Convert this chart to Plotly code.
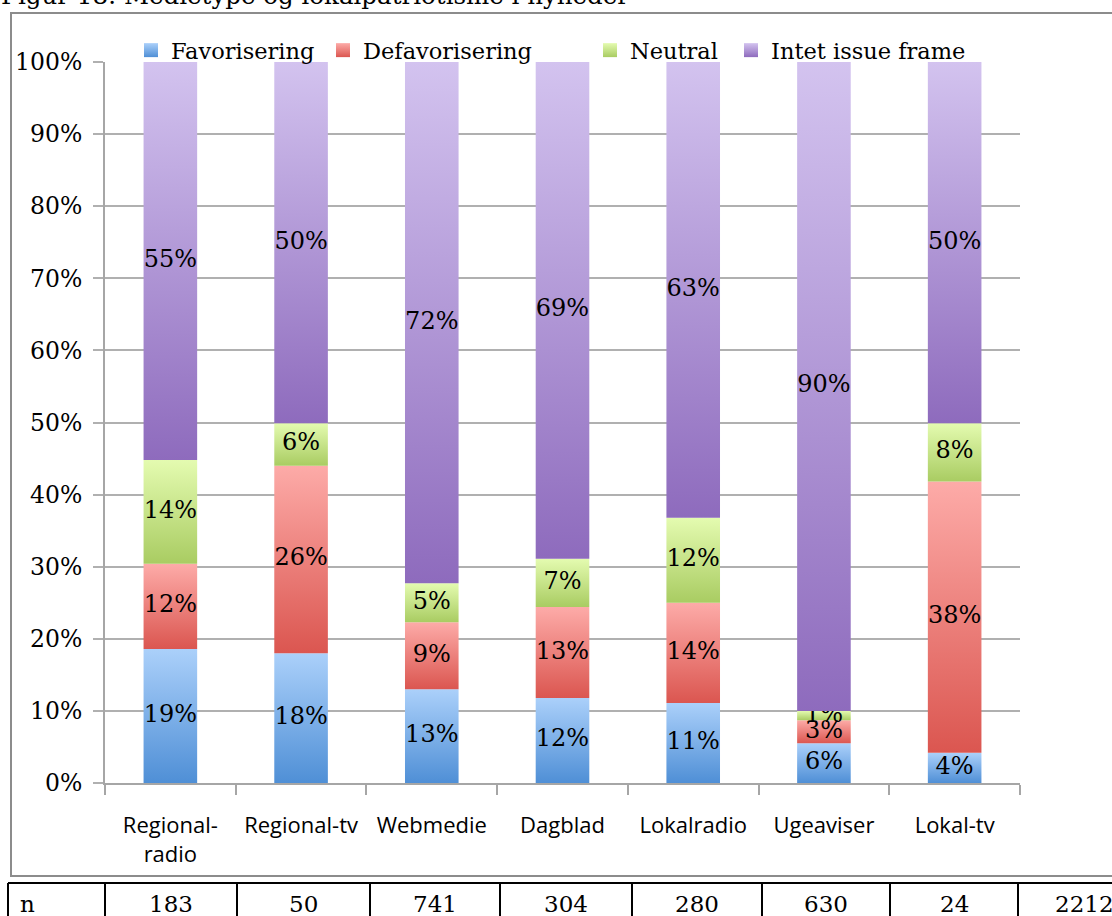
import plotly.graph_objects as go

# data (percent of stories per media type)
categories = ["Regional-<br>radio", "Regional-tv", "Webmedie", "Dagblad", "Lokalradio", "Ugeaviser", "Lokal-tv"]
favorisering = [18.6, 18.0, 13.0, 11.8, 11.1, 5.5, 4.2]
defavorisering = [11.8, 26.0, 9.3, 12.6, 13.9, 3.2, 37.6]
neutral = [14.4, 5.9, 5.4, 6.7, 11.8, 1.3, 8.1]
intet = [55.2, 50.1, 72.3, 68.9, 63.2, 90.0, 50.1]
series_names = ["Favorisering", "Defavorisering", "Neutral", "Intet issue frame"]
y_ticks = [0, 10, 20, 30, 40, 50, 60, 70, 80, 90, 100]
n_row = ["n", "183", "50", "741", "304", "280", "630", "24", "2212"]
title_text = "Figur 18: Medietype og lokalpatriotisme i nyheder"

# gradient colours (bottom, top) per series
grad = [("#4f8fd6", "#abd0fa"), ("#db5650", "#fdaba8"), ("#a9cc62", "#e4fbb0"), ("#8e6bbd", "#d3c3ef")]

SERIF = "DejaVu Serif"
SANS = "Open Sans"
W, H = 1112, 916
L, R, T, B = 105, 1020, 62, 783


def px(xp):
    return (xp - L) / (R - L)


def py(yp):
    return (B - yp) / (B - T)


fig = go.Figure()
half = 0.205
values = [favorisering, defavorisering, neutral, intet]
base = [0.0] * len(categories)
for s, vals in enumerate(values):
    lx, ly, lt = [], [], []
    for i, v in enumerate(vals):
        b0, b1 = base[i], base[i] + v
        fig.add_trace(go.Scatter(
            x=[i - half, i + half, i + half, i - half, i - half],
            y=[b0, b0, b1, b1, b0],
            mode="lines", fill="toself", line=dict(width=0),
            fillgradient=dict(type="vertical", colorscale=[[0, grad[s][0]], [1, grad[s][1]]]),
            showlegend=False, hoverinfo="skip"))
        lx.append(i)
        ly.append((b0 + b1) / 2)
        lt.append(f"{round(v)}%")
        base[i] = b1
    fig.add_trace(go.Scatter(x=lx, y=ly, text=lt, mode="text", showlegend=False, hoverinfo="skip",
                             textfont=dict(family=SERIF, size=24, color="black")))

# legend entries, one small legend each so they sit where the reference has them
legend_x = [131, 323, 590, 731]
legend_layout = {}
for s, name in enumerate(series_names):
    lg = "legend" if s == 0 else f"legend{s + 1}"
    fig.add_trace(go.Scatter(x=[None], y=[None], mode="markers", name=name, legend=lg,
                             marker=dict(symbol="square", size=14, color=grad[s][1],
                                         gradient=dict(type="vertical", color=grad[s][0]))))
    legend_layout[lg] = dict(orientation="h", x=px(legend_x[s]), y=py(29), xanchor="left", yanchor="top",
                             font=dict(family=SERIF, size=22.5, color="black"), bgcolor="rgba(0,0,0,0)",
                             itemwidth=30)

shapes = []
# outer frame
shapes.append(dict(type="rect", xref="paper", yref="paper", x0=px(11), x1=px(1130), y0=py(13), y1=py(876),
                   line=dict(color="#8c8c8c", width=2), layer="below"))
# table lines
shapes.append(dict(type="line", xref="paper", yref="paper", x0=px(8), x1=px(1130), y0=py(883), y1=py(883),
                   line=dict(color="black", width=2)))
col_edges = [8, 105, 237, 370, 500, 632, 762, 890, 1018]
for xe in col_edges:
    shapes.append(dict(type="line", xref="paper", yref="paper", x0=px(xe), x1=px(xe), y0=py(883), y1=py(930),
                       line=dict(color="black", width=2)))

annotations = [dict(text=title_text, xref="paper", yref="paper", x=px(0), y=py(11), xanchor="left",
                    yanchor="bottom", showarrow=False, borderpad=0, font=dict(family=SERIF, size=24.5, color="black"))]
for k, txt in enumerate(n_row):
    if k == 0:
        annotations.append(dict(text=txt, xref="paper", yref="paper", x=px(18), y=py(904), xanchor="left",
                                yanchor="middle", showarrow=False, font=dict(family=SERIF, size=23, color="black")))
    else:
        right = col_edges[k + 1] if k + 1 < len(col_edges) else 1150
        xc = (col_edges[k] + right) / 2
        annotations.append(dict(text=txt, xref="paper", yref="paper", x=px(xc), y=py(904), xanchor="center",
                                yanchor="middle", showarrow=False, font=dict(family=SERIF, size=23, color="black")))

fig.update_layout(
    width=W, height=H, autosize=False,
    margin=dict(l=L, r=W - R, t=T, b=H - B, pad=0),
    plot_bgcolor="white", paper_bgcolor="white",
    shapes=shapes, annotations=annotations,
    xaxis=dict(range=[-0.5, 6.5], tickmode="array", tickvals=list(range(len(categories))), ticktext=categories,
               ticks="outside", ticklen=0, showgrid=False, zeroline=False,
               showline=True, linecolor="#a6a6a6", linewidth=2,
               tickfont=dict(family=SANS, size=22, color="black"), ticklabelstandoff=22,
               minor=dict(tickmode="array", tickvals=[i - 0.5 for i in range(len(categories) + 1)],
                          ticks="outside", ticklen=10, tickwidth=2, tickcolor="#a6a6a6", showgrid=False),
               fixedrange=True),
    yaxis=dict(range=[0, 100], tickmode="array", tickvals=y_ticks, ticktext=[f"{v}%" for v in y_ticks],
               ticks="outside", ticklen=10, tickwidth=2, tickcolor="#b0b0b0",
               showgrid=True, gridcolor="#b0b0b0", gridwidth=2, zeroline=False,
               showline=True, linecolor="#a6a6a6", linewidth=2,
               tickfont=dict(family=SERIF, size=23.5, color="black"), ticklabelstandoff=6,
               fixedrange=True),
    showlegend=True,
    **legend_layout,
)

fig.write_html("out.html", config={"displayModeBar": False},
               post_script="document.body.style.margin='0';")
